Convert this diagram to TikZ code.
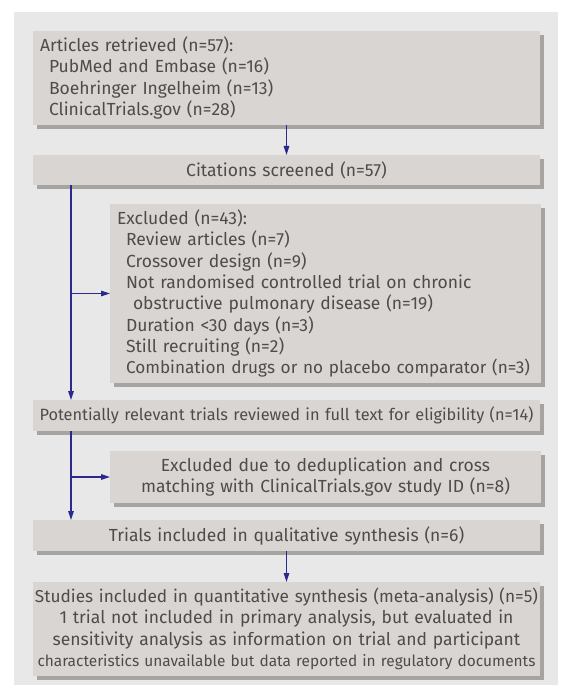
\documentclass[tikz,border=0pt]{standalone}
\usepackage{fontspec}
\setmainfont{Fira Sans}
\usetikzlibrary{arrows.meta}
\definecolor{panelbg}{HTML}{E8E8E9}
\definecolor{boxfill}{HTML}{D9D5D2}
\definecolor{boxshadow}{HTML}{A6A3A1}
\definecolor{txt}{HTML}{4E4C4B}
\definecolor{arrowc}{HTML}{2B2A8C}
\tikzset{
  x=1pt, y=-1pt,
  boxbase/.style={fill=boxfill, inner xsep=7pt, inner ysep=0pt, anchor=north west,
    font=\fontsize{17.5}{21.3}\selectfont, text=txt, outer sep=0pt},
  leftbox/.style={boxbase, align=left},
  centerbox/.style={boxbase, align=center, inner xsep=1pt},
  flow/.style={draw=arrowc, line width=1.5pt, -{Triangle[length=9pt,width=5.5pt]}},
}
\newcommand{\shadowbox}[4]{\fill[boxshadow] (#1+4,#2+4) rectangle ++(#3,#4);}
\newcommand{\ind}{\hspace*{9pt}}
\begin{document}
\begin{tikzpicture}
\useasboundingbox (0,0) rectangle (561,687);
\fill[panelbg] (14,12) rectangle (558,685);
% shadows
\shadowbox{33}{31}{507}{94}
\shadowbox{33}{155}{507}{30}
\shadowbox{110}{204}{431}{179}
\shadowbox{33}{400}{507}{31}
\shadowbox{110}{451}{431}{52}
\shadowbox{33}{520}{507}{31}
\shadowbox{33}{582}{507}{94}
% boxes
\node[leftbox, minimum width=507pt, minimum height=94pt, text width=493pt] (b1) at (33,31)
  {Articles retrieved (n=57):\\
   \ind PubMed and Embase (n=16)\\
   \ind Boehringer Ingelheim (n=13)\\
   \ind ClinicalTrials.gov (n=28)};
\node[centerbox, minimum width=507pt, minimum height=30pt, text width=505pt] (b2) at (33,155)
  {Citations screened (n=57)};
\node[leftbox, minimum width=431pt, minimum height=179pt, text width=417pt] (ex1) at (110,204)
  {Excluded (n=43):\\
   \ind Review articles (n=7)\\
   \ind Crossover design (n=9)\\
   \ind Not randomised controlled trial on chronic\\
   \hspace*{16pt}obstructive pulmonary disease (n=19)\\
   \ind Duration <30 days (n=3)\\
   \ind Still recruiting (n=2)\\
   \ind\makebox[0pt][l]{\resizebox{404pt}{!}{Combination drugs or no placebo comparator (n=3)}}};
\node[centerbox, minimum width=507pt, minimum height=31pt, text width=505pt] (b3) at (33,400)
  {\resizebox{494pt}{!}{Potentially relevant trials reviewed in full text for eligibility (n=14)}};
\node[centerbox, minimum width=431pt, minimum height=52pt, text width=429pt] (ex2) at (110,451)
  {Excluded due to deduplication and cross\\
   matching with ClinicalTrials.gov study ID (n=8)};
\node[centerbox, minimum width=507pt, minimum height=31pt, text width=505pt] (b4) at (33,520)
  {Trials included in qualitative synthesis (n=6)};
\node[centerbox, minimum width=507pt, minimum height=94pt, text width=505pt] (b5) at (33,582)
  {\resizebox{503pt}{!}{Studies included in quantitative synthesis (meta-analysis) (n=5)}\\
   1 trial not included in primary analysis, but evaluated in\\
   sensitivity analysis as information on trial and participant\\
   \resizebox{498pt}{!}{characteristics unavailable but data reported in regulatory documents}};
% connectors
\coordinate (trunk) at (71,0);
\draw[flow] (b1.south) -- (b2.north);
\draw[flow] (b2.south -| trunk) -- (b3.north -| trunk);
\draw[flow] (ex1.west -| trunk) -- (ex1.west);
\draw[flow] (b3.south -| trunk) -- (b4.north -| trunk);
\draw[flow] (ex2.west -| trunk) -- (ex2.west);
\draw[flow] (b4.south) -- (b5.north);
\end{tikzpicture}
\end{document}
